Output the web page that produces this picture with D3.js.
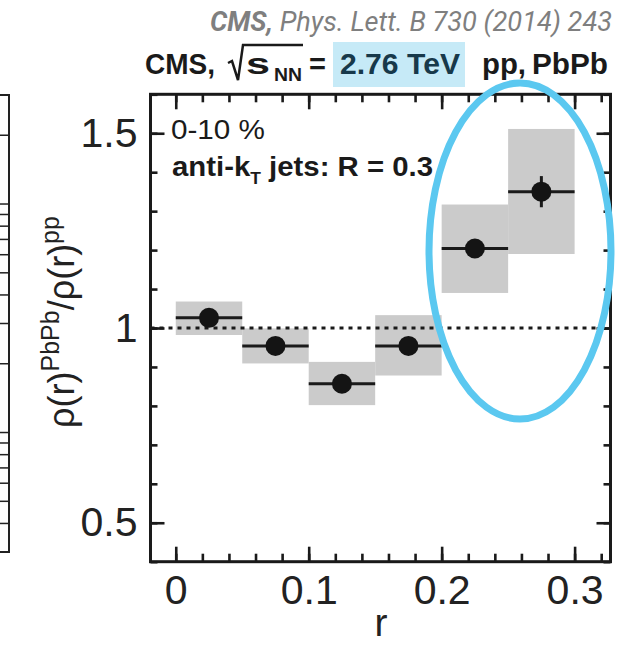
<!DOCTYPE html>
<html>
<head>
<meta charset="utf-8">
<script src="https://cdn.jsdelivr.net/npm/d3@7"></script>
<style>
body { margin: 0; background: #fff; }
svg { display: block; font-family: "Liberation Sans", Arial, Helvetica, sans-serif; }
</style>
</head>
<body>
<div id="chart-area"></div>
<script>

// jet-shape ratio PbPb / pp, 0-10% centrality, anti-kT R = 0.3
let binLow  = [0, 0.05, 0.10, 0.15, 0.20, 0.25];
let binHigh = [0.05, 0.10, 0.15, 0.20, 0.25, 0.30];
let ratio   = [1.026, 0.954, 0.857, 0.954, 1.204, 1.350];
let statErr = [0.010, 0.012, 0.015, 0.018, 0.022, 0.040];
let sysLow  = [0.982, 0.909, 0.802, 0.878, 1.090, 1.190];
let sysHigh = [1.068, 0.999, 0.913, 1.033, 1.317, 1.511];

// axis ticks
let xMajor = [0, 0.1, 0.2, 0.3];
let xMinor = d3.range(0, 0.321, 0.02);
let yMajor = [0.5, 1, 1.5];
let yMinor = d3.range(0.4, 1.61, 0.1);

let data = binLow.map((lo, i) => ({
	lo: lo, hi: binHigh[i], r: (lo + binHigh[i]) / 2,
	val: ratio[i], stat: statErr[i], sysLo: sysLow[i], sysHi: sysHigh[i]
}));

let W = 620, H = 646;
let plot = {left: 150.5, right: 610.5, top: 94.3, bottom: 561.7};

let svg = d3.select("#chart-area").append("svg")
	.attr("width", W)
	.attr("height", H);

let x = d3.scaleLinear().domain([-0.019, 0.327]).range([plot.left, plot.right]);
let y = d3.scaleLinear().domain([0.4, 1.6]).range([plot.bottom, plot.top]);

// neighbour panel, cut off at the left edge
let yNb = d3.scaleLog().domain([0.3, 30]).range([552, 95]);
svg.append("rect")
	.attr("x", -10).attr("y", 95).attr("width", 19).attr("height", 457)
	.attr("fill", "none").attr("stroke", "#222").attr("stroke-width", 2);
svg.append("g").selectAll("line")
	.data(yNb.ticks())
	.enter().append("line")
	.attr("x1", 0).attr("x2", 9)
	.attr("y1", d => yNb(d)).attr("y2", d => yNb(d))
	.attr("stroke", "#222").attr("stroke-width", 1.5);

// systematic boxes
svg.append("g").selectAll("rect")
	.data(data)
	.enter().append("rect")
	.attr("x", d => x(d.lo))
	.attr("width", d => x(d.hi) - x(d.lo))
	.attr("y", d => y(d.sysHi))
	.attr("height", d => y(d.sysLo) - y(d.sysHi))
	.attr("fill", "#cbcbcb");

// dotted unity line
svg.append("line")
	.attr("x1", plot.left).attr("x2", plot.right)
	.attr("y1", y(1)).attr("y2", y(1))
	.attr("stroke", "#1a1a1a").attr("stroke-width", 3)
	.attr("stroke-dasharray", "4,5");

// axes (ticks on all four sides, pointing inwards)
function drawAxis(axisFn, ticks, size, transform, labels) {
	let g = svg.append("g")
		.attr("transform", transform)
		.call(axisFn.tickValues(ticks).tickSize(-size).tickPadding(13)
			.tickFormat(labels ? d3.format("") : ""));
	g.select(".domain").remove();
	g.selectAll(".tick line").attr("stroke", "#1a1a1a").attr("stroke-width", 2.6);
	g.selectAll(".tick text")
		.attr("fill", "#222")
		.style("font-size", "41px")
		.style("font-family", "'Liberation Sans', Arial, sans-serif");
	return g;
}
drawAxis(d3.axisBottom(x), xMinor, 8, `translate(0,${plot.bottom})`, false);
drawAxis(d3.axisBottom(x), xMajor, 15, `translate(0,${plot.bottom})`, true);
drawAxis(d3.axisTop(x), xMinor, 8, `translate(0,${plot.top})`, false);
drawAxis(d3.axisTop(x), xMajor, 15, `translate(0,${plot.top})`, false);
drawAxis(d3.axisLeft(y), yMinor, 7, `translate(${plot.left},0)`, false);
drawAxis(d3.axisLeft(y), yMajor, 14, `translate(${plot.left},0)`, true);
drawAxis(d3.axisRight(y), yMinor, 7, `translate(${plot.right},0)`, false);
drawAxis(d3.axisRight(y), yMajor, 14, `translate(${plot.right},0)`, false);

// frame
svg.append("rect")
	.attr("x", plot.left).attr("y", plot.top)
	.attr("width", plot.right - plot.left).attr("height", plot.bottom - plot.top)
	.attr("fill", "none").attr("stroke", "#1a1a1a").attr("stroke-width", 3);

// horizontal bin-width bars
svg.append("g").selectAll("line")
	.data(data)
	.enter().append("line")
	.attr("x1", d => x(d.lo)).attr("x2", d => x(d.hi))
	.attr("y1", d => y(d.val)).attr("y2", d => y(d.val))
	.attr("stroke", "#1a1a1a").attr("stroke-width", 3);

// statistical errors
svg.append("g").selectAll("line")
	.data(data)
	.enter().append("line")
	.attr("x1", d => x(d.r)).attr("x2", d => x(d.r))
	.attr("y1", d => y(d.val - d.stat)).attr("y2", d => y(d.val + d.stat))
	.attr("stroke", "#1a1a1a").attr("stroke-width", 3);

// points
svg.append("g").selectAll("circle")
	.data(data)
	.enter().append("circle")
	.attr("cx", d => x(d.r))
	.attr("cy", d => y(d.val))
	.attr("r", 10)
	.attr("fill", "#141414");

// in-plot labels
svg.append("text")
	.attr("x", 171).attr("y", 139)
	.attr("fill", "#1a1a1a")
	.attr("textLength", 94).attr("lengthAdjust", "spacingAndGlyphs")
	.style("font-size", "27px")
	.text("0-10 %");
let lab = svg.append("text")
	.attr("x", 172).attr("y", 176)
	.attr("fill", "#1a1a1a")
	.attr("textLength", 261).attr("lengthAdjust", "spacingAndGlyphs")
	.style("font-size", "27px").style("font-weight", "bold");
lab.append("tspan").text("anti-k");
lab.append("tspan").attr("dy", 8).style("font-size", "16px").text("T");
lab.append("tspan").attr("dy", -8).text(" jets: R = 0.3");

// axis titles
svg.append("text")
	.attr("x", 381).attr("y", 636)
	.attr("text-anchor", "middle")
	.attr("fill", "#222")
	.style("font-size", "39px")
	.text("r");

let ylab = svg.append("text")
	.attr("transform", "translate(74,322) rotate(-90)")
	.attr("text-anchor", "middle")
	.attr("fill", "#222")
	.style("font-size", "36px");
ylab.append("tspan").text("\u03c1(r)");
ylab.append("tspan").attr("dy", -15).style("font-size", "25px").text("PbPb");
ylab.append("tspan").attr("dy", 15).text("/\u03c1(r)");
ylab.append("tspan").attr("dy", -15).style("font-size", "25px").text("pp");

// header: citation
let cite = svg.append("text")
	.attr("x", 612).attr("y", 31)
	.attr("text-anchor", "end")
	.attr("fill", "#7f7f7f")
	.attr("textLength", 402).attr("lengthAdjust", "spacingAndGlyphs")
	.style("font-family", "Roboto, 'Liberation Sans', sans-serif")
	.style("font-style", "italic")
	.style("font-size", "27px");
cite.append("tspan").style("font-weight", "bold").text("CMS,");
cite.append("tspan").text(" Phys. Lett. B 730 (2014) 243");

// header: collision system, with highlighted energy
svg.append("rect")
	.attr("x", 333).attr("y", 42).attr("width", 132).attr("height", 45)
	.attr("fill", "#c6eaf7");

let title = svg.append("g")
	.attr("fill", "#1a1a1a")
	.style("font-weight", "bold")
	.style("font-size", "29px");
title.append("text").attr("x", 145).attr("y", 74)
	.attr("textLength", 70).attr("lengthAdjust", "spacingAndGlyphs").text("CMS,");
title.append("path")
	.attr("d", "M228,63 L232,61 L238,80 L243,45 L303,45")
	.attr("fill", "none").attr("stroke", "#1a1a1a").attr("stroke-width", 2.5);
title.append("text").attr("x", 246).attr("y", 74)
	.attr("textLength", 24).attr("lengthAdjust", "spacingAndGlyphs").text("s");
title.append("text").attr("x", 274).attr("y", 81).style("font-size", "18px")
	.attr("textLength", 28).attr("lengthAdjust", "spacingAndGlyphs").text("NN");
title.append("text").attr("x", 309).attr("y", 74).text("=");
title.append("text").attr("x", 340).attr("y", 74).attr("fill", "#17394a")
	.attr("textLength", 120).attr("lengthAdjust", "spacingAndGlyphs").text("2.76 TeV");
title.append("text").attr("x", 482).attr("y", 74)
	.attr("textLength", 44).attr("lengthAdjust", "spacingAndGlyphs").text("pp,");
title.append("text").attr("x", 532).attr("y", 74)
	.attr("textLength", 76).attr("lengthAdjust", "spacingAndGlyphs").text("PbPb");

// highlight ellipse around the two outer bins
svg.append("ellipse")
	.attr("cx", 520).attr("cy", 251)
	.attr("rx", 91).attr("ry", 168)
	.attr("fill", "none")
	.attr("stroke", "#5bc8f0")
	.attr("stroke-width", 7);

</script>
</body>
</html>
